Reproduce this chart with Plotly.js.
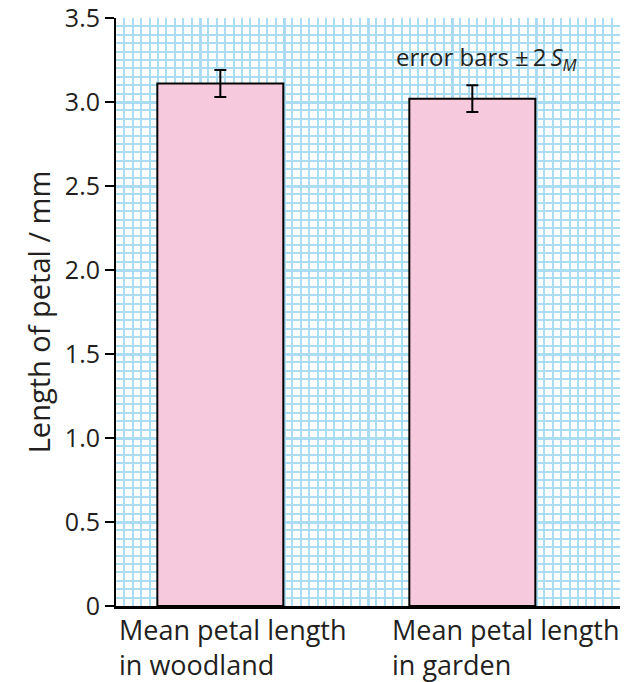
<!DOCTYPE html>
<html><head><meta charset="utf-8">
<script src="https://cdn.plot.ly/plotly-3.0.1.min.js"></script>
<style>html,body{margin:0;padding:0;background:#fff}</style></head>
<body><div id="chart" style="width:641px;height:682px"></div>
<script>
// ---- data ----
const categories = ['woodland', 'garden'];
const categoryLabels = ['Mean petal length<br>in woodland', 'Mean petal length<br>in garden'];
const meanLength = [3.11, 3.02];
const errTwoSM = [0.08, 0.08];
const yTickVals = [0, 0.5, 1.0, 1.5, 2.0, 2.5, 3.0, 3.5];
const yTickText = ['0', '0.5', '1.0', '1.5', '2.0', '2.5', '3.0', '3.5'];
const yTitle = 'Length of petal / mm';
const noteText = 'error bars \u00b1\u20092\u2009<i>S</i><sub><i>M</i></sub>';

// ---- style ----
const FONT = 'Open Sans, Noto Sans, sans-serif';
const TXT = '#231f20';
const GRID = '#aadcf4';
const labelLeft = [0.002, 0.543];

const bars = {
  type: 'bar', x: categories, y: meanLength, width: 0.5,
  marker: {color: '#f6c9dd', line: {color: '#000', width: 2}},
  error_y: {type: 'data', array: errTwoSM, visible: true, color: '#000', thickness: 2, width: 6},
  showlegend: false, hoverinfo: 'skip'
};
const gridHolder = {type: 'scatter', x: [], y: [], xaxis: 'x2', yaxis: 'y', showlegend: false};

const annotations = categoryLabels.map((t, i) => ({
  text: t, xref: 'paper', yref: 'paper', x: labelLeft[i], y: -0.005,
  xanchor: 'left', yanchor: 'top', align: 'left', showarrow: false,
  font: {family: FONT, size: 27, color: TXT}
}));
annotations.push({
  text: noteText, xref: 'paper', yref: 'y', x: 0.552, y: 3.26,
  xanchor: 'left', yanchor: 'middle', showarrow: false,
  font: {family: FONT, size: 24, color: TXT}
});

const layout = {
  width: 641, height: 682,
  margin: {l: 116, r: 21, t: 18, b: 76},
  paper_bgcolor: '#fff', plot_bgcolor: '#fff',
  xaxis: {
    type: 'category', range: [-0.414, 1.586], showgrid: false, zeroline: false,
    showticklabels: false, ticks: '', showline: true, linecolor: '#000', linewidth: 3,
    fixedrange: true
  },
  xaxis2: {
    overlaying: 'x', anchor: 'y', range: [0, 3.0], tickmode: 'linear', tick0: 0, dtick: 0.5,
    showgrid: true, gridcolor: GRID, gridwidth: 3, showticklabels: false, ticks: '',
    zeroline: false, showline: false,
    minor: {tickmode: 'linear', tick0: 0, dtick: 0.05, showgrid: true, gridcolor: GRID, gridwidth: 2, ticks: ''}
  },
  yaxis: {
    range: [0, 3.5], tickmode: 'array', tickvals: yTickVals, ticktext: yTickText,
    showgrid: true, gridcolor: GRID, gridwidth: 3, zeroline: false,
    minor: {tickmode: 'linear', tick0: 0, dtick: 0.05, showgrid: true, gridcolor: GRID, gridwidth: 2, ticks: ''},
    ticks: 'outside', ticklen: 9, tickwidth: 2, tickcolor: '#000',
    showline: true, linecolor: '#000', linewidth: 2,
    ticklabeloverflow: 'allow',
    tickfont: {family: FONT, size: 25, color: TXT},
    title: {text: yTitle, font: {family: FONT, size: 29, color: TXT}, standoff: 6}
  },
  annotations: annotations
};

Plotly.newPlot('chart', [gridHolder, bars], layout, {displayModeBar: false, staticPlot: true});
</script>
</body></html>
